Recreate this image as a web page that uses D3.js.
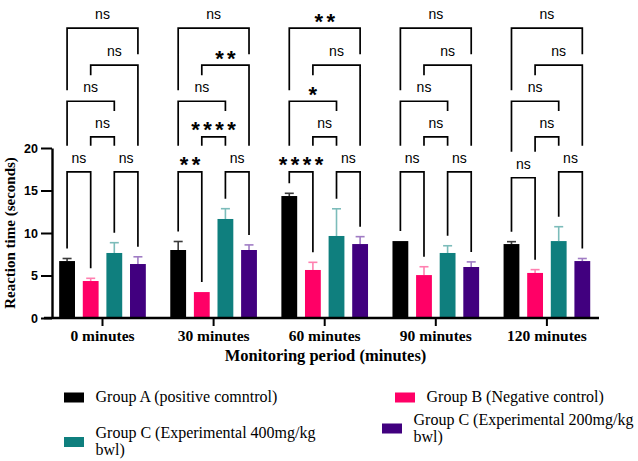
<!DOCTYPE html>
<html>
<head>
<meta charset="utf-8">
<script src="https://cdn.jsdelivr.net/npm/d3@7"></script>
<style>
  body { margin: 0; background: #fff; }
  svg { display: block; background: #fff; }
</style>
</head>
<body>
<svg id="chart" width="638" height="461"></svg>
<script>
// Data
const categories = ['0 minutes', '30 minutes', '60 minutes', '90 minutes', '120 minutes'];
const groups = [
  'Group A (positive comntrol)',
  'Group B (Negative control)',
  'Group C (Experimental 400mg/kg bwl)',
  'Group C (Experimental 200mg/kg bwl)',
];
const meanA = [6.7, 8.0, 14.35, 9.05, 8.7];
const meanB = [4.35, 3.05, 5.65, 5.05, 5.3];
const meanC = [7.65, 11.65, 9.65, 7.65, 9.05];
const meanD = [6.35, 8.0, 8.7, 6.0, 6.7];
const errA = [0.3, 1.0, 0.32, 0, 0.28];
const errB = [0.32, 0, 0.9, 0.98, 0.39];
const errC = [1.21, 1.21, 3.2, 0.85, 1.69];
const errD = [0.85, 0.6, 0.87, 0.6, 0.3];
const yTicks = [0, 5, 10, 15, 20];

// pairwise comparisons (bar indices) and their significance per time point
const sigPairs = [[0, 1], [2, 3], [1, 2], [0, 2], [1, 3], [0, 3]];
const sigLabels = [
  ['ns', 'ns', 'ns', 'ns', 'ns', 'ns'],
  ['**', 'ns', '****', 'ns', '**', 'ns'],
  ['****', 'ns', 'ns', '*', 'ns', '**'],
  ['ns', 'ns', 'ns', 'ns', 'ns', 'ns'],
  ['ns', 'ns', 'ns', 'ns', 'ns', 'ns'],
];

// styling / layout
const SERIF = "'Liberation Serif', 'Times New Roman', Times, serif";
const SANS = "'Liberation Sans', Arial, Helvetica, sans-serif";
const barColors = ['#000000', '#ff0066', '#0f7f7e', '#41007f'];
const errColors = ['#3a3a3a', '#ff80b0', '#7cbcba', '#a07cc4'];
const bracketLevels = [17.2, 17.2, 21.3, 25.5, 29.75, 34.1]; // y units, per pair
const starSpacing = 3.4;
const legendLayout = [
  { x: 64, cy: 397.5 },
  { x: 395, cy: 397.5 },
  { x: 64, cy: 442 },
  { x: 382, cy: 428.5 },
];

const means = [meanA, meanB, meanC, meanD];
const errs = [errA, errB, errC, errD];

const svg = d3.select('#chart');
const plot = { left: 52, right: 599, top: 148, bottom: 318 };

const x0 = d3.scaleBand()
  .domain(categories)
  .range([46.95, 602.45])
  .paddingInner(0.22)
  .paddingOuter(0.11);
const x1 = d3.scaleBand()
  .domain(d3.range(groups.length))
  .range([0, x0.bandwidth()])
  .paddingInner(0.33);
const y = d3.scaleLinear().domain([0, 20]).range([plot.bottom, plot.top]);

const barCenter = (ci, gi) => x0(categories[ci]) + x1(gi) + x1.bandwidth() / 2;

// flatten into bar records
const bars = [];
categories.forEach((c, ci) => {
  groups.forEach((g, gi) => {
    bars.push({ ci, gi, mean: means[gi][ci], err: errs[gi][ci] });
  });
});

// bars
svg.append('g')
  .selectAll('rect')
  .data(bars)
  .join('rect')
  .attr('x', (d) => x0(categories[d.ci]) + x1(d.gi))
  .attr('y', (d) => y(d.mean))
  .attr('width', x1.bandwidth())
  .attr('height', (d) => y(0) - y(d.mean))
  .attr('fill', (d) => barColors[d.gi]);

// error bars (upper only)
const errG = svg.append('g')
  .selectAll('g')
  .data(bars.filter((d) => d.err > 0))
  .join('g')
  .attr('stroke', (d) => errColors[d.gi])
  .attr('stroke-width', 1.6);
errG.append('line')
  .attr('x1', (d) => barCenter(d.ci, d.gi))
  .attr('x2', (d) => barCenter(d.ci, d.gi))
  .attr('y1', (d) => y(d.mean))
  .attr('y2', (d) => y(d.mean + d.err));
errG.append('line')
  .attr('x1', (d) => barCenter(d.ci, d.gi) - 4.5)
  .attr('x2', (d) => barCenter(d.ci, d.gi) + 4.5)
  .attr('y1', (d) => y(d.mean + d.err))
  .attr('y2', (d) => y(d.mean + d.err));

// axes
const yAxis = d3.axisLeft(y).tickValues(yTicks).tickSize(11).tickPadding(3).tickSizeOuter(0);
const yAxisG = svg.append('g')
  .attr('transform', `translate(${plot.left},0)`)
  .call(yAxis);
yAxisG.selectAll('line').attr('stroke-width', 2);
yAxisG.select('.domain').attr('stroke-width', 2.4);
yAxisG.selectAll('text')
  .style('font-family', SANS)
  .style('font-weight', 'bold')
  .style('font-size', '12.5px')
  .attr('fill', '#000');

const xAxis = d3.axisBottom(x0).tickSize(8).tickPadding(4).tickSizeOuter(0);
const xAxisG = svg.append('g')
  .attr('transform', `translate(0,${plot.bottom})`)
  .call(xAxis);
xAxisG.select('.domain')
  .attr('d', `M${plot.left - 8},0H${plot.right}`)
  .attr('stroke-width', 2.4);
xAxisG.selectAll('line').attr('stroke-width', 2);
xAxisG.selectAll('text')
  .style('font-family', SERIF)
  .style('font-weight', 'bold')
  .style('font-size', '15.5px')
  .attr('fill', '#000');

// axis titles
svg.append('text')
  .attr('transform', `translate(14.5,${(plot.top + plot.bottom) / 2}) rotate(-90)`)
  .attr('text-anchor', 'middle')
  .style('font-family', SERIF)
  .style('font-weight', 'bold')
  .style('font-size', '15px')
  .text('Reaction time (seconds)');
svg.append('text')
  .attr('x', (plot.left + plot.right) / 2)
  .attr('y', 361)
  .attr('text-anchor', 'middle')
  .style('font-family', SERIF)
  .style('font-weight', 'bold')
  .style('font-size', '16.5px')
  .text('Monitoring period (minutes)');

// significance brackets
const brackets = [];
categories.forEach((c, ci) => {
  const list = sigPairs.map(([a, b], pi) => {
    const level = ci === 4 && pi === 0 ? 16.5 : bracketLevels[pi];
    const xa = barCenter(ci, a);
    const xb = barCenter(ci, b);
    return { ci, a, b, xa, xb, cx: (xa + xb) / 2, yLine: y(level), label: sigLabels[ci][pi] };
  });
  // each leg drops until it meets something below it
  list.forEach((br) => {
    br.legs = [[br.xa, br.a], [br.xb, br.b]].map(([xe, gi]) => {
      let bottom = y(means[gi][ci] + errs[gi][ci]) - 10;
      list.forEach((o) => {
        if (o === br || o.yLine <= br.yLine) return;
        if (xe < o.xa - 1 || xe > o.xb + 1) return;
        const stop = Math.abs(xe - o.cx) <= 14 ? o.yLine - 26 : o.yLine - 11;
        bottom = Math.min(bottom, stop);
      });
      return bottom;
    });
    brackets.push(br);
  });
});

const bracketG = svg.append('g')
  .selectAll('g')
  .data(brackets)
  .join('g');
bracketG.append('path')
  .attr('d', (d) => `M${d.xa},${d.legs[0]}V${d.yLine}H${d.xb}V${d.legs[1]}`)
  .attr('fill', 'none')
  .attr('stroke', '#000')
  .attr('stroke-width', 1.7);

const isNs = (d) => d.label === 'ns';
bracketG.append('text')
  .attr('x', (d) => (isNs(d) ? d.cx : d.cx + starSpacing / 2))
  .attr('y', (d) => (isNs(d) ? d.yLine - 9 : d.yLine + 0.5))
  .attr('text-anchor', 'middle')
  .style('font-family', SANS)
  .style('font-size', (d) => (isNs(d) ? '14px' : '22px'))
  .style('font-weight', (d) => (isNs(d) ? 'normal' : 'bold'))
  .style('letter-spacing', (d) => (isNs(d) ? '0px' : `${starSpacing}px`))
  .text((d) => d.label);

// legend
const legend = svg.append('g')
  .selectAll('g')
  .data(groups)
  .join('g')
  .attr('transform', (d, i) => `translate(${legendLayout[i].x},${legendLayout[i].cy})`);
legend.append('rect')
  .attr('x', 0)
  .attr('y', -5)
  .attr('width', 20)
  .attr('height', 10)
  .attr('fill', (d, i) => barColors[i]);
legend.append('text')
  .attr('x', 31.5)
  .style('font-family', SERIF)
  .style('font-size', '16px')
  .attr('fill', '#000')
  .each(function (d) {
    // simple word wrap
    const el = d3.select(this);
    const words = d.split(' ');
    const lines = [];
    let line = [];
    const probe = el.append('tspan');
    words.forEach((w) => {
      probe.text([...line, w].join(' '));
      if (probe.node().getComputedTextLength() > 226 && line.length) {
        lines.push(line.join(' '));
        line = [w];
      } else {
        line.push(w);
      }
    });
    lines.push(line.join(' '));
    probe.remove();
    const lh = 17;
    const first = 4.5 - ((lines.length - 1) * lh) / 2;
    lines.forEach((t, k) => {
      el.append('tspan').attr('x', 31.5).attr('y', first + k * lh).text(t);
    });
  });
</script>
</body>
</html>
